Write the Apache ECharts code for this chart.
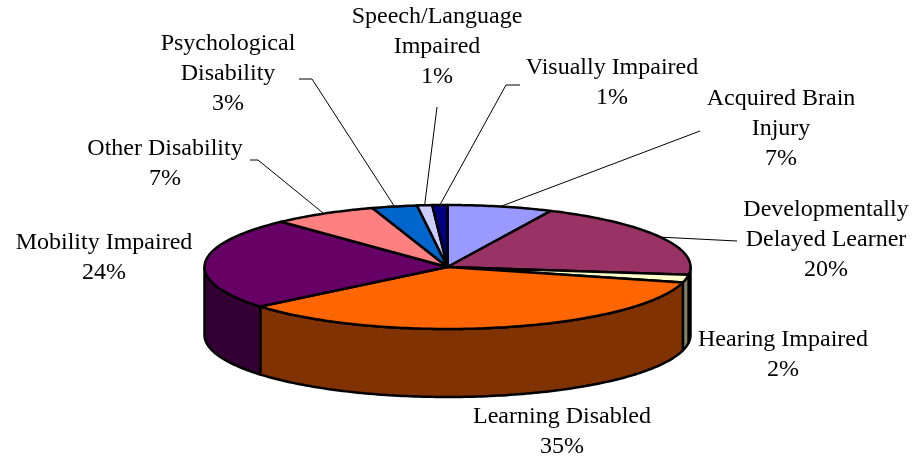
<!DOCTYPE html>
<html>
<head>
<meta charset="utf-8">
<script src="https://cdn.jsdelivr.net/npm/echarts@6/dist/echarts.min.js"></script>
<style>
  html, body { margin: 0; padding: 0; background: #fff; }
  #chart { width: 915px; height: 466px; }
</style>
</head>
<body>
<div id="chart"></div>
<script>
// slices in order, clockwise from 12 o'clock
const categories = [
  'Acquired Brain\nInjury',
  'Developmentally\nDelayed Learner',
  'Hearing Impaired',
  'Learning Disabled',
  'Mobility Impaired',
  'Other Disability',
  'Psychological\nDisability',
  'Speech/Language\nImpaired',
  'Visually Impaired'
];
const shares = [7, 20, 2, 35, 24, 7, 3, 1, 1];
const colors = ['#9999FF', '#993366', '#FFFFCC', '#FF6600', '#660066', '#FF8080', '#0066CC', '#CCCCFF', '#000080'];

// label block centres and leader bends (layout only)
const labelAt = [[781, 129], [826, 240], [783, 355], [562, 432], [104, 258], [165, 164], [228, 74], [437, 47], [612, 83]];
const leaderTo = [
  [[700, 131]],
  [[737, 241]],
  null,
  null,
  null,
  [[258, 160], [250, 160]],
  [[312, 79], [299, 79]],
  [[437, 107]],
  [[506, 85], [520, 85]]
];

// pie geometry
const CX = 447.5, CY = 267, RX = 243, RY = 62, DEPTH = 68;

const total = shares.reduce((a, b) => a + b, 0);
const starts = [];
shares.reduce((acc, v) => { starts.push(acc); return acc + v; }, 0);

function darken(hex) {
  const n = parseInt(hex.slice(1), 16);
  const r = (n >> 16) & 255, g = (n >> 8) & 255, b = n & 255;
  return 'rgb(' + Math.round(r / 2) + ',' + Math.round(g / 2) + ',' + Math.round(b / 2) + ')';
}

function pt(deg, dy) {
  const t = deg * Math.PI / 180;
  return [CX + RX * Math.cos(t), CY + RY * Math.sin(t) + (dy || 0)];
}

function arc(a0, a1, dy) {
  const pts = [];
  const n = Math.max(2, Math.ceil(Math.abs(a1 - a0)));
  for (let k = 0; k <= n; k++) pts.push(pt(a0 + (a1 - a0) * k / n, dy));
  return pts;
}

function renderItem(params, api) {
  const i = params.dataIndex;
  const v = api.value(0);
  const a0 = starts[i] / total * 360 - 90;
  const a1 = (starts[i] + v) / total * 360 - 90;
  const children = [];

  // front wall
  const s0 = Math.max(a0, 0), s1 = Math.min(a1, 180);
  if (s1 > s0) {
    const top = arc(s0, s1, 0);
    const bot = arc(s1, s0, DEPTH);
    children.push({
      type: 'polygon',
      z2: 1,
      shape: { points: top.concat(bot) },
      style: { fill: darken(colors[i]), stroke: '#000', lineWidth: 2.5, lineJoin: 'round' }
    });
  }

  // top face
  children.push({
    type: 'polygon',
    z2: 2,
    shape: { points: [[CX, CY]].concat(arc(a0, a1, 0)) },
    style: { fill: colors[i], stroke: '#000', lineWidth: 2.5, lineJoin: 'round' }
  });

  // leader line
  if (leaderTo[i]) {
    const mid = pt((a0 + a1) / 2, 0);
    children.push({
      type: 'polyline',
      z2: 3,
      shape: { points: [mid].concat(leaderTo[i]) },
      style: { stroke: '#000', lineWidth: 1, fill: null }
    });
  }

  // label
  children.push({
    type: 'text',
    z2: 4,
    x: labelAt[i][0],
    y: labelAt[i][1],
    style: {
      text: categories[i] + '\n' + v + '%',
      fill: '#000',
      font: '24px "Liberation Serif", "DejaVu Serif", serif',
      lineHeight: 30,
      align: 'center',
      verticalAlign: 'middle'
    }
  });

  return { type: 'group', children: children };
}

const chart = echarts.init(document.getElementById('chart'));
chart.setOption({
  backgroundColor: '#fff',
  animation: false,
  series: [{
    type: 'custom',
    coordinateSystem: 'none',
    renderItem: renderItem,
    data: shares.map((v, i) => ({ name: categories[i].replace('\n', ' '), value: [v] }))
  }]
});
</script>
</body>
</html>
